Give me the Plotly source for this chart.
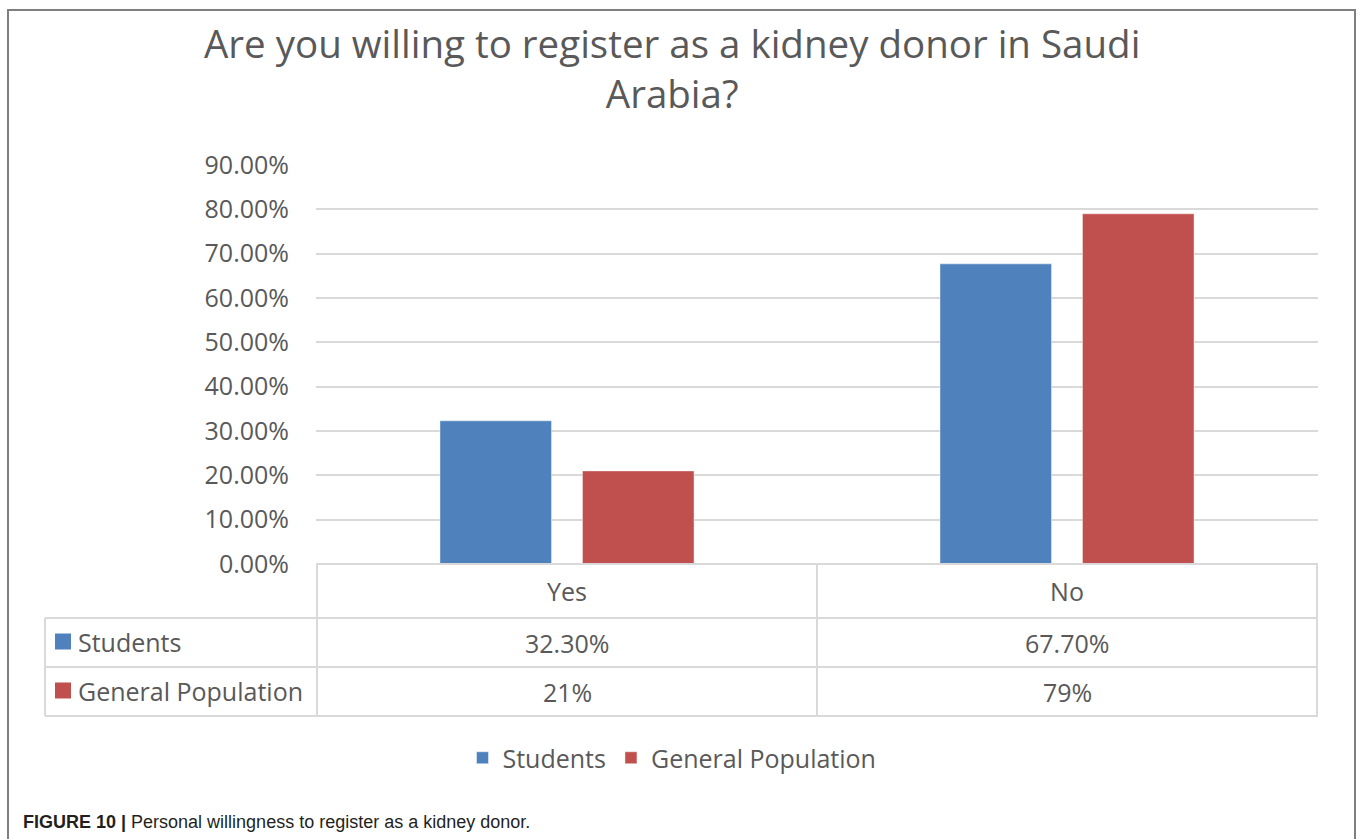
import plotly.graph_objects as go

# ---- data ----
categories = ["Yes", "No"]
series_names = ["Students", "General Population"]
students = [0.323, 0.677]
general_population = [0.21, 0.79]
series_values = [students, general_population]
series_colors = ["#4F81BD", "#C0504D"]
table_decimals = [2, 0]          # decimals shown in the data table per series
y_tickvals = [0, 0.1, 0.2, 0.3, 0.4, 0.5, 0.6, 0.7, 0.8, 0.9]

title_text = "Are you willing to register as a kidney donor in Saudi<br>Arabia?"
caption_text = "<b>FIGURE 10 |</b> Personal willingness to register as a kidney donor."

# ---- page geometry (pixels) ----
W, H = 1360, 839
TEXT = "#595959"
GRID = "#D9D9D9"
FONT = "Open Sans"
FS = 25


def px(x):
    return x / W


def py(y):
    return 1 - y / H


plot_left, plot_right = 316, 1318
plot_top, plot_bottom = 165, 564
table_left = 45
row_lines = [618, 667, 716]      # bottom edges of header / students / population rows

fig = go.Figure()
for name, vals, col in zip(series_names, series_values, series_colors):
    fig.add_trace(go.Bar(
        x=categories, y=vals, name=name,
        marker=dict(color=col, line=dict(color="rgba(255,255,255,0.45)", width=1)),
        hoverinfo="skip",
    ))

shapes = []
line_style = dict(color=GRID, width=2)
# horizontal table rules
shapes.append(dict(type="line", xref="paper", yref="paper",
                   x0=px(plot_left), x1=px(plot_right), y0=py(plot_bottom), y1=py(plot_bottom),
                   line=line_style, layer="above"))
for yl in row_lines:
    shapes.append(dict(type="line", xref="paper", yref="paper",
                       x0=px(table_left), x1=px(plot_right), y0=py(yl), y1=py(yl),
                       line=line_style))
# vertical table rules on category boundaries
n = len(categories)
for k in range(n + 1):
    shapes.append(dict(type="line", xref="x", yref="paper",
                       x0=k - 0.5, x1=k - 0.5, y0=py(plot_bottom), y1=py(row_lines[-1]),
                       line=line_style))
shapes.append(dict(type="line", xref="paper", yref="paper",
                   x0=px(table_left), x1=px(table_left), y0=py(row_lines[0]), y1=py(row_lines[-1]),
                   line=line_style))

annotations = []
row_centers = [(row_lines[0] + row_lines[1]) / 2, (row_lines[1] + row_lines[2]) / 2]
for i, (name, vals, col, dec) in enumerate(zip(series_names, series_values, series_colors, table_decimals)):
    yc = row_centers[i]
    # legend key swatch in the row header
    shapes.append(dict(type="rect", xref="paper", yref="paper",
                       x0=px(55), x1=px(71), y0=py(yc - 9), y1=py(yc + 7),
                       fillcolor=col, line=dict(width=0)))
    annotations.append(dict(text=name, xref="paper", yref="paper", x=px(76), y=py(yc - 1),
                            xanchor="left", yanchor="middle", showarrow=False,
                            font=dict(family=FONT, size=FS, color=TEXT)))
    for j, v in enumerate(vals):
        annotations.append(dict(text=f"{v * 100:.{dec}f}%", xref="x", yref="paper", x=j, y=py(yc),
                                xanchor="center", yanchor="middle", showarrow=False,
                                font=dict(family=FONT, size=FS, color=TEXT)))

# chart title
annotations.append(dict(text=title_text, xref="paper", yref="paper", x=px(672), y=py(15),
                        xanchor="center", yanchor="top", showarrow=False, align="center",
                        font=dict(family=FONT, size=38.5, color=TEXT)))
# figure caption
annotations.append(dict(text=caption_text, xref="paper", yref="paper", x=px(21), y=py(822),
                        xanchor="left", yanchor="middle", showarrow=False,
                        font=dict(family="Liberation Sans", size=18, color="#231F20")))

# outer frame of the chart
shapes.append(dict(type="rect", xref="paper", yref="paper",
                   x0=px(8), x1=px(1355), y0=py(10), y1=py(860),
                   line=dict(color="#7F7F7F", width=2), fillcolor="rgba(0,0,0,0)"))

fig.update_layout(
    width=W, height=H,
    margin=dict(l=0, r=0, t=0, b=0),
    paper_bgcolor="white", plot_bgcolor="white",
    template="none",
    barmode="group", bargap=0.43, bargroupgap=0.217,
    font=dict(family=FONT, color=TEXT),
    showlegend=True,
    legend=dict(orientation="h", x=px(672), xanchor="center", y=py(758), yanchor="middle",
                font=dict(family=FONT, size=FS, color=TEXT), itemclick=False, itemdoubleclick=False,
                bgcolor="rgba(0,0,0,0)"),
    xaxis=dict(domain=[px(plot_left), px(plot_right)], automargin=False,
               showgrid=False, zeroline=False, showline=False, ticks="",
               tickfont=dict(family=FONT, size=FS, color=TEXT), ticklabelstandoff=11,
               fixedrange=True),
    yaxis=dict(domain=[py(plot_bottom), py(plot_top)], range=[0, 0.9], automargin=False,
               tickvals=y_tickvals, tickformat=".2%", showgrid=True, gridcolor=GRID, gridwidth=2,
               zeroline=False, showline=False, ticks="", ticklabelstandoff=26,
               tickfont=dict(family=FONT, size=FS, color=TEXT), fixedrange=True),
    shapes=shapes,
    annotations=annotations,
)

fig.write_html("out.html", config={"displayModeBar": False})
